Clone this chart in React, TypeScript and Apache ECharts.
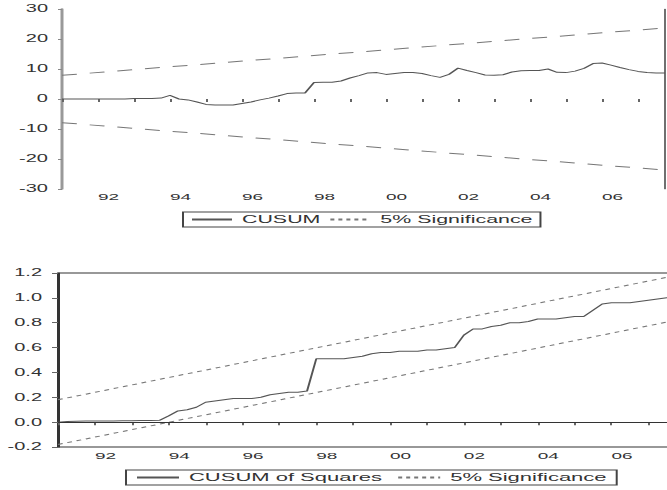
import React, { useEffect, useRef } from "react";
import * as echarts from "echarts";

// ---- data ----
const years = [1991, 1992, 1993, 1994, 1995, 1996, 1997, 1998, 1999, 2000, 2001, 2002, 2003, 2004, 2005, 2006, 2007];
const quarters = ["Q1", "Q2", "Q3", "Q4"];
const categories = years.flatMap((y) => quarters.map((q) => `${y}${q}`));

const cusum = [
  0, 0, 0, 0, 0, 0, 0, 0, 0.2, 0.2, 0.2, 0.3, 1.2, 0, -0.3, -1, -1.8, -2, -2, -2,
  -1.5, -1, -0.3, 0.3, 1, 1.8, 2, 2, 5.5, 5.6, 5.6, 6, 7, 7.8, 8.7, 8.8, 8.2, 8.5, 8.8, 8.8,
  8.5, 7.8, 7.2, 8.2, 10.3, 9.5, 8.8, 8, 7.9, 8.1, 9, 9.4, 9.5, 9.5, 10, 8.9, 8.8, 9.3, 10.2, 11.8,
  12, 11.3, 10.5, 9.8, 9.2, 8.8, 8.7, 8.7,
];
const cusumUpperEnds = [7.9, 23.7];
const cusumLowerEnds = [-7.9, -23.7];
const cusumTicks = { min: -30, max: 30, step: 10 };

const cusumSq = [
  0, 0.005, 0.008, 0.01, 0.01, 0.01, 0.01, 0.012, 0.012, 0.013, 0.014, 0.015,
  0.05, 0.09, 0.1, 0.12, 0.16, 0.17, 0.18, 0.19, 0.19, 0.19, 0.2, 0.22, 0.23, 0.24, 0.24, 0.25,
  0.51, 0.51, 0.51, 0.51, 0.52, 0.53, 0.55, 0.56, 0.56, 0.57, 0.57, 0.57, 0.58, 0.58, 0.59, 0.6,
  0.7, 0.75, 0.75, 0.77, 0.78, 0.8, 0.8, 0.81, 0.83, 0.83, 0.83, 0.84, 0.85, 0.85, 0.9, 0.95,
  0.96, 0.96, 0.96, 0.97, 0.98, 0.99, 1.0, 1.0,
];
const sqUpperEnds = [0.18, 1.18];
const sqLowerEnds = [-0.18, 0.82];
const sqTicks = { min: -0.2, max: 1.2, step: 0.2 };

// ---- layout (inner coordinates; the drawing is stretched horizontally) ----
const S = 2;
const W = 340;
const H = 490;
const FONT = "Liberation Sans, Arial, sans-serif";

const ends = (pair: number[]) =>
  categories.map((_, i) => (i === 0 ? pair[0] : i === categories.length - 1 ? pair[1] : null));

const isYearStart = (i: number) => i % 4 === 0;
const isLabel = (_i: number, v: string) => v.endsWith("Q1") && parseInt(v.slice(0, 4), 10) % 2 === 0;
const fmtYear = (v: string) => v.slice(2, 4);

function makeOption() {
  const xBase = (gridIndex: number, showLine: boolean, margin: number) => ({
    type: "category",
    gridIndex,
    data: categories,
    boundaryGap: false,
    axisLine: { show: showLine, lineStyle: { color: "#333", width: 1 } },
    axisTick: { show: true, interval: isYearStart, length: 3, lineStyle: { color: "#666" } },
    axisLabel: {
      interval: isLabel,
      formatter: fmtYear,
      align: "left",
      margin,
      fontSize: 9.5,
      color: "#333",
      fontFamily: FONT,
    },
    splitLine: { show: false },
  });

  const legendBase = {
    orient: "horizontal",
    itemHeight: 10,
    borderColor: "#444",
    borderWidth: 1,
    itemStyle: { opacity: 0, borderWidth: 0 },
    textStyle: { fontSize: 11, color: "#333", fontFamily: FONT },
  };

  return {
    animation: false,
    backgroundColor: "#fff",
    textStyle: { fontFamily: FONT },
    grid: [
      { left: 31, right: 7.5, top: 9, height: 180 },
      { left: 29, right: 2, top: 273, height: 174, show: true, borderColor: "#333", borderWidth: 1 },
    ],
    xAxis: [xBase(0, false, 3), xBase(1, true, 4)],
    yAxis: [
      {
        type: "value",
        gridIndex: 0,
        min: cusumTicks.min,
        max: cusumTicks.max,
        interval: cusumTicks.step,
        axisLine: { show: true, lineStyle: { color: "#999", width: 1.5 } },
        axisTick: { show: true, length: 2, lineStyle: { color: "#888" } },
        axisLabel: { margin: 7, fontSize: 10, color: "#333", fontFamily: FONT },
        splitLine: { show: false },
      },
      {
        type: "value",
        gridIndex: 0,
        position: "right",
        min: cusumTicks.min,
        max: cusumTicks.max,
        interval: cusumTicks.step,
        axisLine: { show: true, lineStyle: { color: "#333", width: 0.7 } },
        axisTick: { show: false },
        axisLabel: { show: false },
        splitLine: { show: false },
      },
      {
        type: "value",
        gridIndex: 1,
        min: sqTicks.min,
        max: sqTicks.max,
        interval: sqTicks.step,
        axisLine: { show: true, lineStyle: { color: "#333", width: 1 } },
        axisTick: { show: true, length: 3, lineStyle: { color: "#666" } },
        axisLabel: {
          margin: 8,
          fontSize: 10,
          color: "#333",
          fontFamily: FONT,
          formatter: (v: number) => v.toFixed(1),
        },
        splitLine: { show: false },
      },
    ],
    legend: [
      {
        ...legendBase,
        left: 91.5,
        top: 212,
        padding: [2, 4, 2, 3.5],
        itemGap: 4,
        itemWidth: 20,
        textStyle: { fontSize: 10.7, color: "#333", fontFamily: FONT },
        data: [
          { name: "CUSUM" },
          { name: "5% Significance", lineStyle: { type: [2, 2] } },
        ],
      },
      {
        ...legendBase,
        left: 63,
        top: 470,
        padding: [2, 5, 2, 4.5],
        itemGap: 7,
        itemWidth: 21,
        data: [
          { name: "CUSUM of Squares" },
          { name: "5% Significance", lineStyle: { type: [2, 2] } },
        ],
      },
    ],
    series: [
      {
        name: "CUSUM",
        type: "line",
        xAxisIndex: 0,
        yAxisIndex: 0,
        data: cusum,
        symbol: "none",
        lineStyle: { color: "#555", width: 1 },
        itemStyle: { color: "#555" },
      },
      {
        name: "5% Significance",
        type: "line",
        xAxisIndex: 0,
        yAxisIndex: 0,
        data: ends(cusumUpperEnds),
        connectNulls: true,
        symbol: "none",
        lineStyle: { color: "#777", width: 1, type: [7.5, 6.5] },
        itemStyle: { color: "#777" },
      },
      {
        name: "5% Significance",
        type: "line",
        xAxisIndex: 0,
        yAxisIndex: 0,
        data: ends(cusumLowerEnds),
        connectNulls: true,
        symbol: "none",
        lineStyle: { color: "#777", width: 1, type: [7.5, 6.5] },
        itemStyle: { color: "#777" },
      },
      {
        name: "CUSUM of Squares",
        type: "line",
        xAxisIndex: 1,
        yAxisIndex: 2,
        data: cusumSq,
        symbol: "none",
        lineStyle: { color: "#555", width: 1 },
        itemStyle: { color: "#555" },
        markLine: {
          silent: true,
          symbol: "none",
          label: { show: false },
          lineStyle: { color: "#333", type: "solid", width: 1 },
          data: [{ yAxis: 0 }],
        },
      },
      {
        name: "5% Significance",
        type: "line",
        xAxisIndex: 1,
        yAxisIndex: 2,
        data: ends(sqUpperEnds),
        connectNulls: true,
        symbol: "none",
        lineStyle: { color: "#777", width: 1, type: [2.5, 2.5] },
        itemStyle: { color: "#777" },
      },
      {
        name: "5% Significance",
        type: "line",
        xAxisIndex: 1,
        yAxisIndex: 2,
        data: ends(sqLowerEnds),
        connectNulls: true,
        symbol: "none",
        lineStyle: { color: "#777", width: 1, type: [2.5, 2.5] },
        itemStyle: { color: "#777" },
      },
    ],
  };
}

export default function App() {
  const ref = useRef<HTMLDivElement>(null);
  useEffect(() => {
    if (!ref.current) return;
    const chart = echarts.init(ref.current, undefined, { renderer: "svg", width: W, height: H });
    chart.setOption(makeOption() as any);
    return () => chart.dispose();
  }, []);
  return (
    <div
      style={{
        position: "fixed",
        left: 0,
        top: 0,
        width: 667,
        height: 490,
        overflow: "hidden",
        background: "#fff",
      }}
    >
      <div
        ref={ref}
        style={{ width: W, height: H, transform: `scaleX(${S})`, transformOrigin: "0 0" }}
      />
    </div>
  );
}
